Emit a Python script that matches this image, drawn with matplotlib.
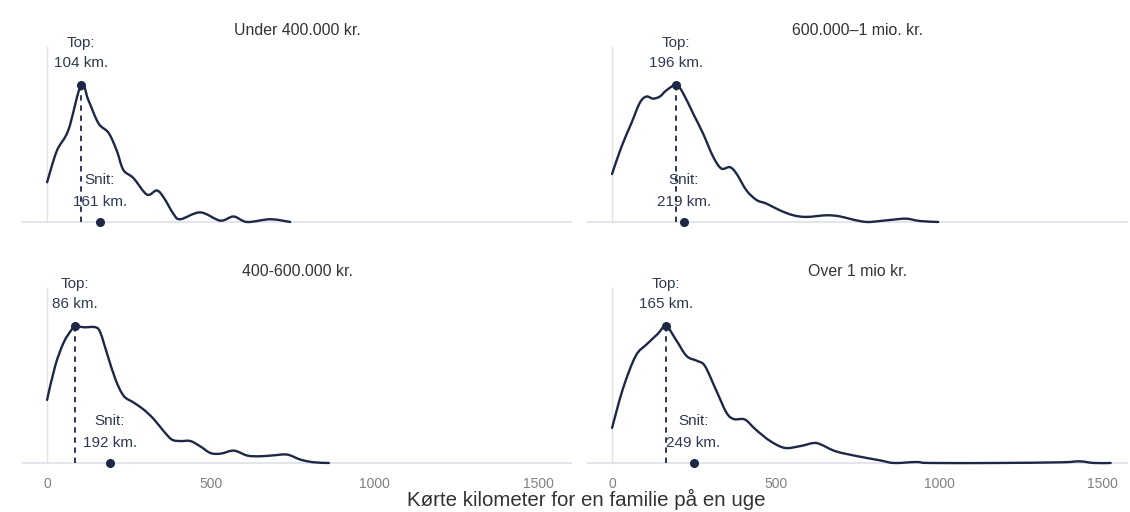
import matplotlib
matplotlib.use("Agg")
import matplotlib.pyplot as plt
from matplotlib.path import Path
from matplotlib.patches import PathPatch

plt.rcParams["font.family"] = ["Liberation Sans", "DejaVu Sans"]

# panel titles in the order top-left, top-right, bottom-left, bottom-right
titles = ["Under 400.000 kr.", "600.000\u20131 mio. kr.", "400-600.000 kr.", "Over 1 mio kr."]

# density curves (km, height relative to the top)
km_under400 = [0, 30, 65, 104, 126, 157, 188, 213, 233, 264, 305, 335, 356, 386, 407,
               468, 529, 570, 611, 682, 743]
dens_under400 = [0.29, 0.52, 0.67, 1.0, 0.89, 0.72, 0.65, 0.52, 0.38, 0.32, 0.20, 0.23, 0.18,
                 0.06, 0.02, 0.07, 0.01, 0.04, 0.0, 0.02, 0.0]

km_600_1mio = [0, 29, 59, 85, 105, 125, 146, 166, 196, 217, 248, 278, 309, 334, 360, 380,
               411, 442, 472, 513, 554, 594, 656, 696, 737, 778, 819, 859, 900, 941, 997]
dens_600_1mio = [0.35, 0.55, 0.72, 0.87, 0.915, 0.90, 0.915, 0.96, 1.0, 0.94, 0.79, 0.646,
                 0.476, 0.39, 0.40, 0.354, 0.23, 0.16, 0.134, 0.085, 0.049, 0.037, 0.049,
                 0.041, 0.017, 0.0, 0.007, 0.017, 0.024, 0.007, 0.0]

km_400_600 = [0, 25, 51, 76, 86, 112, 148, 163, 183, 209, 234, 265, 295, 326, 357, 382, 408,
              438, 469, 499, 530, 571, 612, 652, 693, 734, 775, 815, 861]
dens_400_600 = [0.46, 0.71, 0.88, 0.976, 1.0, 0.99, 0.99, 0.95, 0.80, 0.61, 0.49, 0.44, 0.39,
                0.32, 0.23, 0.17, 0.16, 0.16, 0.12, 0.073, 0.068, 0.09, 0.054, 0.049, 0.056,
                0.061, 0.024, 0.005, 0.0]

km_over1mio = [0, 33, 72, 106, 139, 165, 195, 228, 261, 284, 317, 350, 373, 406, 439, 484,
               528, 573, 617, 639, 684, 751, 817, 862, 929, 973, 1173, 1373, 1429, 1473, 1524]
dens_over1mio = [0.256, 0.54, 0.78, 0.866, 0.94, 1.0, 0.90, 0.78, 0.744, 0.707, 0.537, 0.366,
                 0.32, 0.317, 0.244, 0.159, 0.11, 0.122, 0.146, 0.134, 0.085, 0.049, 0.02,
                 0.0, 0.007, 0.0, 0.0, 0.005, 0.012, 0.0, 0.0]

curves_km = [km_under400, km_600_1mio, km_400_600, km_over1mio]
curves_dens = [dens_under400, dens_600_1mio, dens_400_600, dens_over1mio]

top_km = [104, 196, 86, 165]
mean_km = [161, 219, 192, 249]

xticks = [0, 500, 1000, 1500]

navy = "#1d2746"
label_col = "#2f3a52"


def smooth_path(xs, ys):
    # Catmull-Rom through the read points, drawn as cubic Bezier segments
    verts = [(xs[0], ys[0])]
    codes = [Path.MOVETO]
    n = len(xs)
    for k in range(n - 1):
        x0, y0 = (xs[k - 1], ys[k - 1]) if k > 0 else (xs[k], ys[k])
        x1, y1 = xs[k], ys[k]
        x2, y2 = xs[k + 1], ys[k + 1]
        x3, y3 = (xs[k + 2], ys[k + 2]) if k + 2 < n else (x2, y2)
        c1 = (x1 + (x2 - x0) / 6, y1 + (y2 - y0) / 6)
        c2 = (x2 - (x3 - x1) / 6, y2 - (y3 - y1) / 6)
        verts += [c1, c2, (x2, y2)]
        codes += [Path.CURVE4] * 3
    return Path(verts, codes)


fig = plt.figure(figsize=(11.3, 5.12), dpi=100)

# axes boxes in figure fractions (left, bottom, width, height)
boxes = [
    [0.0195, 0.541, 0.487, 0.381],
    [0.5195, 0.541, 0.479, 0.381],
    [0.0195, 0.0703, 0.487, 0.381],
    [0.5195, 0.0703, 0.479, 0.381],
]
xlims = [(-76.5, 1605), (-76.5, 1578), (-76.5, 1605), (-76.5, 1578)]

for i in range(4):
    ax = fig.add_axes(boxes[i])
    ax.set_xlim(*xlims[i])
    ax.set_ylim(-0.095, 1.328)
    for s in ax.spines.values():
        s.set_visible(False)
    ax.set_yticks([])

    ax.axhline(0, color="#dfe4ea", lw=1.3, zorder=1)
    ax.plot([0, 0], [0, 1.277], color="#e2e2e2", lw=1.0, zorder=1)

    ax.add_patch(PathPatch(smooth_path(curves_km[i], curves_dens[i]), facecolor="none",
                           edgecolor=navy, lw=1.7, capstyle="round", joinstyle="round",
                           zorder=3))

    peak_h = max(curves_dens[i])
    ax.plot([top_km[i], top_km[i]], [0, peak_h], color=navy, lw=1.3,
            dashes=(3, 2.6), zorder=4)
    ax.plot(top_km[i], peak_h, "o", color=navy, ms=5.5, zorder=5)
    ax.plot(mean_km[i], 0, "o", color=navy, ms=5.5, zorder=5, clip_on=False)

    ax.annotate("Top:", (top_km[i], peak_h), xytext=(0, 42), textcoords="offset pixels",
                ha="center", va="center", fontsize=11, color=label_col)
    ax.annotate(f"{top_km[i]} km.", (top_km[i], peak_h), xytext=(0, 22),
                textcoords="offset pixels", ha="center", va="center",
                fontsize=11, color=label_col)
    ax.annotate("Snit:", (mean_km[i], 0), xytext=(0, 42), textcoords="offset pixels",
                ha="center", va="center", fontsize=11, color=label_col)
    ax.annotate(f"{mean_km[i]} km.", (mean_km[i], 0), xytext=(0, 20),
                textcoords="offset pixels", ha="center", va="center",
                fontsize=11, color=label_col)

    ax.text(0.5, 1.05, titles[i], transform=ax.transAxes, ha="center", va="center",
            fontsize=11.4, color="#333333")

    if i >= 2:
        ax.set_xticks(xticks)
        ax.set_xticklabels([str(t) for t in xticks])
        ax.tick_params(axis="x", length=0, pad=1, labelsize=10, labelcolor="#808080")
    else:
        ax.set_xticks([])

fig.text(0.5186, 0.024, "K\u00f8rte kilometer for en familie p\u00e5 en uge",
         ha="center", va="center", fontsize=14.8, color="#333333")

fig.savefig("out.png", dpi=100)
